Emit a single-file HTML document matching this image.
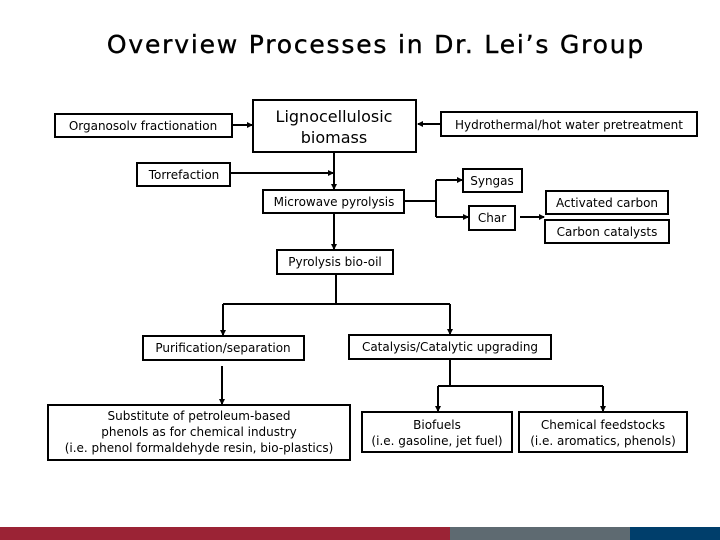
<!DOCTYPE html>
<html><head><style>html,body{margin:0;padding:0;background:#fff}svg{display:block}</style></head>
<body>
<svg width="720" height="540" xmlns="http://www.w3.org/2000/svg" font-family="'DejaVu Sans', 'Liberation Sans', sans-serif">
<defs><marker id="a" markerWidth="6" markerHeight="6" refX="5" refY="3" orient="auto" markerUnits="userSpaceOnUse"><path d="M0,0 L6,3 L0,6 z" fill="#000"/></marker></defs>
<text x="376" y="53" font-size="25" text-anchor="middle" fill="#000" letter-spacing="1.8" font-weight="500" stroke="#000" stroke-width="0.4">Overview Processes in Dr. Lei’s Group</text>
<g fill="#fff" stroke="#000" stroke-width="2">
<rect x="55" y="114" width="177" height="23"/>
<rect x="253" y="100" width="163" height="52"/>
<rect x="441" y="112" width="256" height="24"/>
<rect x="137" y="163" width="93" height="23"/>
<rect x="263" y="190" width="141" height="23"/>
<rect x="463" y="169" width="59" height="23"/>
<rect x="469" y="206" width="46" height="24"/>
<rect x="546" y="191" width="122" height="23"/>
<rect x="545" y="220" width="124" height="23"/>
<rect x="277" y="250" width="116" height="24"/>
<rect x="143" y="336" width="161" height="24"/>
<rect x="349" y="335" width="202" height="24"/>
<rect x="48" y="405" width="302" height="55"/>
<rect x="362" y="412" width="150" height="40"/>
<rect x="519" y="412" width="168" height="40"/>
</g>
<g stroke="#000" stroke-width="2" fill="none">
<path d="M232,125 H252" marker-end="url(#a)"/>
<path d="M441,124 H418" marker-end="url(#a)"/>
<path d="M230,173 H333" marker-end="url(#a)"/>
<path d="M334,152 V189" marker-end="url(#a)"/>
<path d="M404,201 H436"/>
<path d="M436,180 V217"/>
<path d="M436,180 H462" marker-end="url(#a)"/>
<path d="M436,217 H468" marker-end="url(#a)"/>
<path d="M520,217 H544" marker-end="url(#a)"/>
<path d="M334,213 V249" marker-end="url(#a)"/>
<path d="M336,274 V304 M223,304 H450"/>
<path d="M223,304 V335" marker-end="url(#a)"/>
<path d="M450,304 V334" marker-end="url(#a)"/>
<path d="M222,366 V404" marker-end="url(#a)"/>
<path d="M450,359 V386 M438,386 H603"/>
<path d="M438,386 V411" marker-end="url(#a)"/>
<path d="M603,386 V411" marker-end="url(#a)"/>
</g>
<g font-size="12" text-anchor="middle" fill="#000">
<text x="143" y="130">Organosolv fractionation</text>
<text x="334" y="122" font-size="16">Lignocellulosic</text>
<text x="334" y="143" font-size="16">biomass</text>
<text x="569" y="129">Hydrothermal/hot water pretreatment</text>
<text x="184" y="179">Torrefaction</text>
<text x="334" y="206">Microwave pyrolysis</text>
<text x="492" y="185">Syngas</text>
<text x="492" y="222">Char</text>
<text x="607" y="207">Activated carbon</text>
<text x="607" y="236">Carbon catalysts</text>
<text x="335" y="266">Pyrolysis bio-oil</text>
<text x="223" y="352">Purification/separation</text>
<text x="450" y="351">Catalysis/Catalytic upgrading</text>
<text x="199" y="420">Substitute of petroleum-based</text>
<text x="199" y="436">phenols as for chemical industry</text>
<text x="199" y="452">(i.e. phenol formaldehyde resin, bio-plastics)</text>
<text x="437" y="429">Biofuels</text>
<text x="437" y="445">(i.e. gasoline, jet fuel)</text>
<text x="603" y="429">Chemical feedstocks</text>
<text x="603" y="445">(i.e. aromatics, phenols)</text>
</g>
<rect x="0" y="527" width="450" height="13" fill="#9b2335"/>
<rect x="450" y="527" width="180" height="13" fill="#5e6a71"/>
<rect x="630" y="527" width="90" height="13" fill="#003e6b"/>
</svg>
</body></html>
